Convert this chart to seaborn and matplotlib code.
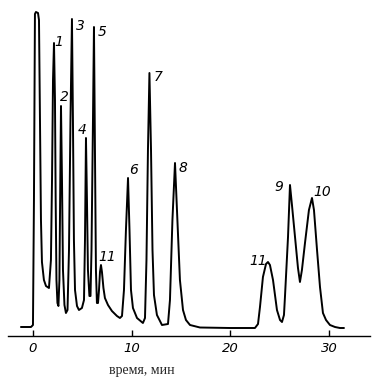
import matplotlib
matplotlib.use("Agg")
import matplotlib.pyplot as plt
import seaborn as sns
import pandas as pd

# Chromatogram trace: time (min) and detector signal (a.u.)
time_min = [-1.22, -0.20, 0.00, 0.10, 0.20, 0.30, 0.51, 0.61, 0.71, 0.81, 0.91, 1.11, 1.32, 1.62,
            1.82, 1.93, 2.03, 2.13, 2.23, 2.30, 2.38, 2.48, 2.58,
            2.68, 2.77, 2.84, 2.94, 3.04, 3.19, 3.34, 3.50,
            3.65, 3.80, 3.95, 4.05, 4.15, 4.26, 4.46, 4.66, 4.96, 5.17,
            5.27, 5.37, 5.47, 5.57, 5.72, 5.83,
            5.93, 6.08, 6.18, 6.28, 6.38, 6.48, 6.59, 6.69,
            6.79, 6.89, 6.99, 7.14, 7.29, 7.60, 8.00, 8.51, 8.81, 9.02,
            9.22, 9.42, 9.63, 9.78, 9.93, 10.13, 10.54, 11.14, 11.35,
            11.50, 11.65, 11.80, 11.96, 12.11, 12.26, 12.56, 13.07, 13.68,
            13.88, 14.13, 14.39, 14.59, 14.89, 15.20, 15.50, 15.91, 16.92, 19.96, 22.49,
            22.80, 23.00, 23.30, 23.61, 23.81, 24.01, 24.32, 24.72, 25.03, 25.23, 25.43,
            25.53, 25.84, 26.04, 26.24, 26.55, 26.85, 27.05, 27.25, 27.56, 27.96, 28.27,
            28.47, 28.78, 29.08, 29.38, 29.69, 30.09, 30.60, 31.10, 31.51]
signal = [1, 1, 3, 128, 314, 316, 315, 308, 208, 108, 66, 48, 42, 40,
          68, 148, 248, 285, 228, 128, 48, 25, 22,
          48, 148, 222, 148, 58, 23, 15, 18,
          78, 208, 309, 208, 88, 38, 22, 18, 20, 28,
          88, 190, 128, 58, 32, 32,
          78, 208, 301, 178, 58, 25, 25, 38,
          56, 63, 56, 40, 30, 23, 17, 12, 10, 12,
          38, 98, 150, 98, 38, 20, 10, 5, 10,
          68, 178, 255, 178, 78, 33, 13, 3, 4,
          28, 108, 165, 118, 48, 18, 8, 3, 0.5, 0, 0,
          4, 21, 51, 64, 66, 63, 48, 18, 8, 6, 13,
          31, 91, 143, 123, 91, 60, 46, 58, 85, 118, 130,
          118, 78, 41, 15, 8, 3, 1, 0, 0]

# Peak labels
peak_labels = ["1", "2", "3", "4", "5", "11", "6", "7", "8", "11", "9", "10"]
label_time = [2.63, 3.14, 4.76, 4.96, 6.99, 7.50, 10.23, 12.66, 15.20, 22.80, 24.92, 29.28]
label_signal = [286, 231, 302, 198, 296, 71, 158, 251, 160, 67, 141, 136]

xticks = [0, 10, 20, 30]

sns.set_style("white")
fig = plt.figure(figsize=(3.8, 3.91), dpi=100)
ax = fig.add_axes([0, 0, 1, 1])
df = pd.DataFrame({"t": time_min, "s": signal})
sns.lineplot(data=df, x="t", y="s", sort=False, estimator=None, color="black",
             linewidth=1.4, ax=ax)

ax.set_xlim(-3.34, 35.16)
ax.set_ylim(-63, 328)
for side in ["top", "left", "right"]:
    ax.spines[side].set_visible(False)
ax.spines["bottom"].set_position(("data", -8))
ax.spines["bottom"].set_bounds(-2.5, 34.1)
ax.spines["bottom"].set_linewidth(1.0)
ax.spines["bottom"].set_color("black")
ax.set_xticks(xticks)
ax.set_xticklabels([str(v) for v in xticks], fontstyle="italic", fontsize=9.5,
                   family="DejaVu Sans")
ax.tick_params(axis="x", direction="in", length=4, width=1, pad=4, colors="black",
               bottom=True)
ax.set_yticks([])
ax.set_ylabel("")
ax.set_xlabel("время, мин", family="Liberation Serif", fontsize=10)
ax.xaxis.set_label_coords(142 / 380, 1 - 364 / 391)

for lab, tx, sy in zip(peak_labels, label_time, label_signal):
    ax.text(tx, sy, lab, fontstyle="italic", fontsize=10, family="DejaVu Sans",
            ha="center", va="center", color="black")

fig.savefig("out.png", dpi=100, facecolor="white")
